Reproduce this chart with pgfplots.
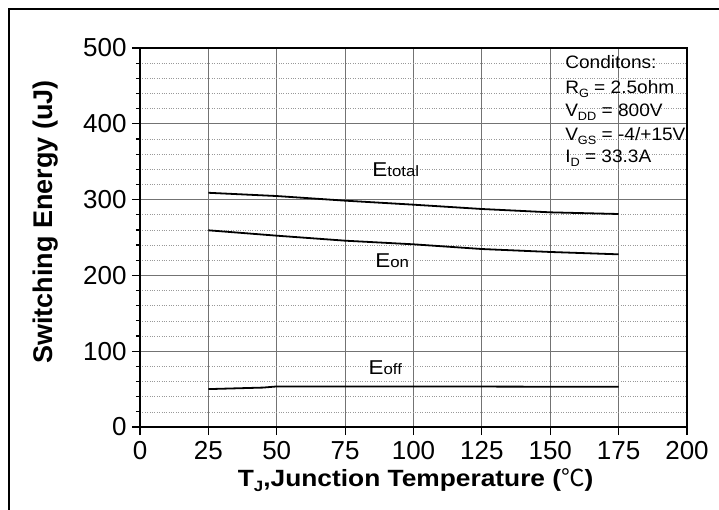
\documentclass[border=0pt]{standalone}
\usepackage{pgfplots}
\pgfplotsset{compat=1.18}
\usepackage{fontspec}
\setmainfont{Liberation Sans}
\newfontfamily\wide[FakeStretch=1.12]{Liberation Sans}
\newfontfamily\cond[FakeStretch=1.06]{Liberation Sans}
\newfontfamily\cjk{Noto Sans CJK SC}
\newcommand{\fs}[1]{\fontsize{#1bp}{#1bp}\selectfont}
\begin{document}
\begin{tikzpicture}
\path[use as bounding box] (0,0) rectangle (719bp,510bp);
\draw[line width=2bp, black] (9bp,0) -- (9bp,501bp) -- (719bp,501bp);
\begin{axis}[
  at={(140bp,83bp)}, anchor=south west,
  scale only axis, width=547bp, height=379bp,
  xmin=0, xmax=200, ymin=0, ymax=500,
  xtick={0,25,...,200}, ytick={0,100,...,500},
  minor y tick num=4,
  tick align=outside, tick pos=left,
  major tick length=8bp, minor tick length=4bp,
  xmajorgrids, ymajorgrids, yminorgrids,
  major grid style={color=black!55, line width=0.8bp},
  minor grid style={color=black!40, dotted, line width=0.6bp},
  axis line style={line width=1.5bp},
  every tick/.style={black, line width=1.2bp},
  tick label style={font=\fs{26}},
  yticklabel style={xshift=-2bp},
  xticklabel style={yshift=-3bp},
  /pgf/number format/assume math mode=true,
  xlabel={\wide\bfseries T\raisebox{-5bp}{\fs{15}J},Junction Temperature ({\cjk\mdseries ℃})},
  ylabel={Switching Energy (uJ)},
  xlabel style={at={(axis description cs:0.504,-0.157)}, anchor=base, font=\bfseries\fs{23.5}},
  ylabel style={at={(axis description cs:-0.172,0.541)}, anchor=center, font=\bfseries\fs{27}},
]
\addplot[black, line width=1.8bp] coordinates {
(25,309) (50,304.7) (75,298.6) (100,293.3) (125,287.6) (150,283.2) (175,281)};
\addplot[black, line width=1.8bp] coordinates {
(25,259.5) (50,252.4) (75,245.8) (100,241) (125,234.8) (150,230.9) (175,227.8)};
\addplot[black, line width=1.8bp] coordinates {
(25,50) (35,51) (45,52) (50,53.5) (100,53.5) (175,53)};
\node[anchor=base west, font=\wide\fs{20}] at (axis cs:83.7,330.2) {E{\fs{15}total}};
\node[anchor=base west, font=\wide\fs{20}] at (axis cs:84.8,209.8) {E{\fs{15}on}};
\node[anchor=base west, font=\wide\fs{20}] at (axis cs:82.3,69.9) {E{\fs{15}off}};
\node[anchor=base west, font=\cond\fs{18}] at (axis cs:154.2,472.3) {Conditons:};
\node[anchor=base west, font=\cond\fs{18}] at (axis cs:154.2,440.6) {R\raisebox{-4bp}{\fs{12}G} = 2.5ohm};
\node[anchor=base west, font=\cond\fs{18}] at (axis cs:154.2,409) {V\raisebox{-4bp}{\fs{12}DD} = 800V};
\node[anchor=base west, font=\cond\fs{18}] at (axis cs:154.2,378.6) {V\raisebox{-4bp}{\fs{12}GS} = -4/+15V};
\node[anchor=base west, font=\cond\fs{18}] at (axis cs:154.2,348.3) {I\raisebox{-4bp}{\fs{12}D} = 33.3A};
\end{axis}
\end{tikzpicture}
\end{document}
